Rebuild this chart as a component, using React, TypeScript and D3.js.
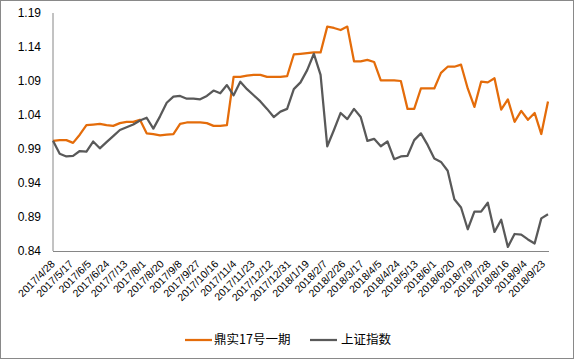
import React from "react";
import * as d3 from "d3";

const seriesNames = ["鼎实17号一期", "上证指数"];
const colors = ["#E46C0A", "#595959"];
const startDate = "2017/4/28";
const weekCount = 75;

const fundValues = [
  1.002, 1.003, 1.003, 0.999, 1.011, 1.025, 1.026, 1.027, 1.025, 1.024,
  1.028, 1.030, 1.030, 1.033, 1.013, 1.012, 1.010, 1.011, 1.012, 1.027,
  1.029, 1.029, 1.029, 1.028, 1.024, 1.024, 1.025, 1.096, 1.096, 1.098,
  1.099, 1.099, 1.096, 1.096, 1.096, 1.097, 1.129, 1.130, 1.131, 1.132,
  1.132, 1.170, 1.168, 1.165, 1.170, 1.119, 1.119, 1.121, 1.118, 1.091,
  1.091, 1.091, 1.090, 1.049, 1.049, 1.079, 1.079, 1.079, 1.102, 1.111,
  1.111, 1.114, 1.079, 1.052, 1.089, 1.088, 1.094, 1.048, 1.063, 1.030,
  1.046, 1.033, 1.043, 1.012, 1.060,
];

const indexValues = [
  1.002, 0.983, 0.979, 0.980, 0.987, 0.986, 1.001, 0.991, 1.000, 1.009,
  1.018, 1.022, 1.026, 1.032, 1.036, 1.020, 1.038, 1.058, 1.067, 1.068,
  1.064, 1.064, 1.063, 1.068, 1.076, 1.072, 1.084, 1.069, 1.089, 1.078,
  1.069, 1.060, 1.049, 1.037, 1.045, 1.049, 1.078, 1.088, 1.106, 1.130,
  1.099, 0.994, 1.018, 1.043, 1.034, 1.049, 1.037, 1.002, 1.005, 0.994,
  1.001, 0.975, 0.979, 0.980, 1.003, 1.013, 0.996, 0.976, 0.971, 0.958,
  0.916, 0.904, 0.872, 0.898, 0.898, 0.911, 0.868, 0.886, 0.846, 0.865,
  0.864, 0.857, 0.851, 0.888, 0.894,
];

const xTickLabels = [
  "2017/4/28", "2017/5/17", "2017/6/5", "2017/6/24", "2017/7/13", "2017/8/1",
  "2017/8/20", "2017/9/8", "2017/9/27", "2017/10/16", "2017/11/4", "2017/11/23",
  "2017/12/12", "2017/12/31", "2018/1/19", "2018/2/7", "2018/2/26", "2018/3/17",
  "2018/4/5", "2018/4/24", "2018/5/13", "2018/6/1", "2018/6/20", "2018/7/9",
  "2018/7/28", "2018/8/16", "2018/9/4", "2018/9/23",
];

const yTicks = [0.84, 0.89, 0.94, 0.99, 1.04, 1.09, 1.14, 1.19];

const parse = d3.timeParse("%Y/%-m/%-d");

export default function App() {
  const W = 574;
  const H = 360;
  const left = 53;
  const right = 548;
  const top = 13;
  const bottom = 251;

  const start = parse(startDate) as Date;
  const dates = d3.range(weekCount).map((i) => d3.timeDay.offset(start, 7 * i));

  const x = d3.scaleTime().domain([dates[0], dates[dates.length - 1]]).range([left, right]);
  const y = d3.scaleLinear().domain([0.84, 1.19]).range([bottom, top]);

  const line = d3
    .line<number>()
    .x((_, i) => x(dates[i]))
    .y((v) => y(v));

  const font = "'Liberation Sans', Arial, sans-serif";

  return (
    <svg width={W} height={H} style={{ position: "absolute", left: 0, top: 0, background: "#fff" }}>
      <rect x={0.5} y={0.5} width={W - 1} height={H - 2} fill="#fff" stroke="#898989" strokeWidth={1} />
      <line x1={left} x2={left} y1={top} y2={bottom} stroke="#868686" strokeWidth={1} />
      <line x1={left} x2={right + 1} y1={bottom + 0.5} y2={bottom + 0.5} stroke="#868686" strokeWidth={1} />
      {yTicks.map((t) => (
        <text
          key={t}
          x={41}
          y={y(t)}
          dy="0.35em"
          textAnchor="end"
          fontFamily={font}
          fontSize={12}
          fill="#000"
        >
          {t.toFixed(2)}
        </text>
      ))}
      {xTickLabels.map((l) => {
        const d = parse(l) as Date;
        const px = x(d);
        return (
          <text
            key={l}
            transform={`translate(${px},${bottom + 11}) rotate(-45)`}
            textAnchor="end"
            dy="0.35em"
            fontFamily={font}
            fontSize={10.5}
            fill="#000"
          >
            {l}
          </text>
        );
      })}
      <path d={line(fundValues) || ""} fill="none" stroke={colors[0]} strokeWidth={2.25} strokeLinejoin="round" />
      <path d={line(indexValues) || ""} fill="none" stroke={colors[1]} strokeWidth={2.25} strokeLinejoin="round" />
      <g fontFamily="'Noto Sans CJK SC', sans-serif" fontSize={12.5}>
        <line x1={185} x2={212} y1={340} y2={340} stroke={colors[0]} strokeWidth={2.25} />
        <text x={214} y={340} dy="0.35em" fill="#000">{seriesNames[0]}</text>
        <line x1={310} x2={337} y1={340} y2={340} stroke={colors[1]} strokeWidth={2.25} />
        <text x={341} y={340} dy="0.35em" fill="#000">{seriesNames[1]}</text>
      </g>
    </svg>
  );
}
